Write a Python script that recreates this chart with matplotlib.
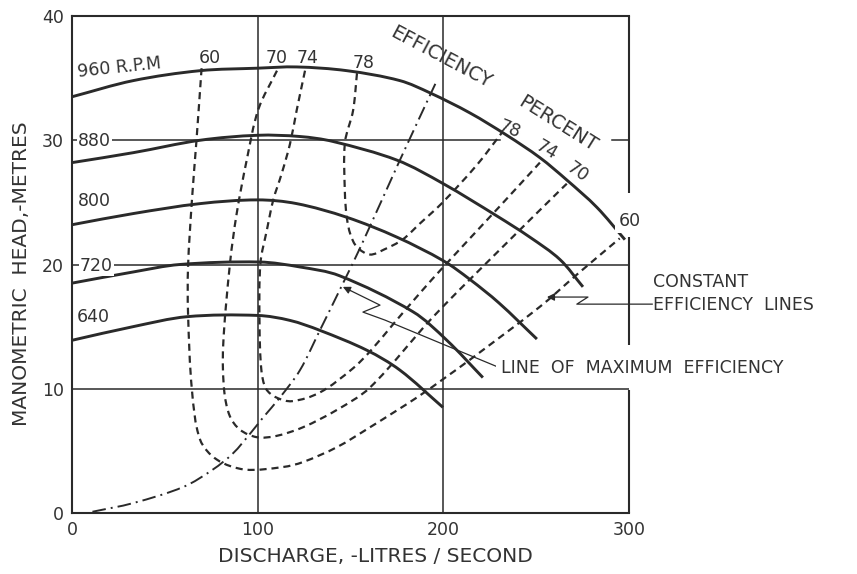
import numpy as np
import matplotlib
matplotlib.use("Agg")
import matplotlib.pyplot as plt
from matplotlib.path import Path
from matplotlib.patches import PathPatch

INK = "#2a2a2a"
TXT = "#333333"

# ---- head / discharge characteristics (discharge L/s, manometric head m) ----
speed_labels = ["960 R.P.M", "880", "800", "720", "640"]
q960 = [0, 33, 69, 100, 121, 148, 176.6, 193, 214.3, 234.2, 252, 266.5, 282.7, 297.8]
h960 = [33.5, 34.8, 35.6, 35.8, 35.9, 35.6, 34.8, 33.8, 32.2, 30.4, 28.6, 26.8, 24.6, 22.0]
q880 = [0, 33, 69, 100, 122.8, 140.6, 175, 200, 228.9, 246.6, 262.8, 275.2]
h880 = [28.2, 29.0, 30.0, 30.4, 30.3, 29.9, 28.4, 26.5, 23.9, 22.2, 20.4, 18.2]
q800 = [0, 33, 69, 100, 121, 148, 175, 200, 214.3, 230, 250.4]
h800 = [23.2, 24.1, 24.9, 25.2, 24.9, 23.8, 22.2, 20.3, 18.8, 16.9, 14.0]
q720 = [0, 33, 58, 101, 122.8, 144, 183.6, 201.9, 221.3]
h720 = [18.5, 19.4, 20.0, 20.2, 19.8, 19.1, 16.2, 13.9, 10.9]
q640 = [0, 33, 62, 100, 117.4, 133.5, 158.8, 176.6, 199.8]
h640 = [13.9, 15.0, 15.8, 15.9, 15.5, 14.7, 13.1, 11.5, 8.5]

# ---- constant efficiency contours (percent) ----
eff_labels = ["60", "70", "74", "78"]
e60_q = [69.8, 67, 64.6, 62.5, 62.5, 64.6, 69, 78, 93, 113.6, 124.4, 142.7, 160.5, 185.8, 202, 214, 252, 272, 295]
e60_h = [35.8, 29.9, 25.2, 19.8, 16.1, 9.9, 5.9, 4.3, 3.5, 3.7, 4.1, 5.3, 6.9, 9.3, 11.0, 12.3, 16.6, 19.2, 22.1]
e70_q = [110.4, 100.4, 94.1, 88.7, 85.1, 81.4, 82, 85, 90.5, 99.6, 110, 124.4, 142.7, 160.5, 194.6, 230.5, 264.4, 266.5]
e70_h = [35.6, 32.5, 28.4, 24.1, 20.1, 13.4, 9.8, 7.8, 6.7, 6.1, 6.2, 6.9, 8.3, 10.1, 15.8, 21.2, 26.2, 26.5]
e74_q = [125.5, 121, 117.4, 112.9, 108.4, 105, 101.5, 101, 102, 104.5, 110, 118.5, 133.5, 151, 160.5, 173, 187.4, 200, 230.5, 252]
e74_h = [35.6, 32.4, 29.7, 27.3, 25.2, 22.8, 20.1, 15.3, 11.5, 10.0, 9.3, 9.0, 9.7, 11.6, 13.0, 15.2, 17.7, 19.8, 24.7, 28.2]
e78_q = [153.5, 151.4, 147, 147, 148, 150, 153.5, 160.5, 168, 178, 187.4, 199, 218, 231.5]
e78_h = [35.4, 32.4, 29.8, 25.7, 23.8, 22.4, 21.4, 20.8, 21.2, 22.0, 23.3, 24.9, 28.0, 30.6]

# ---- line of maximum efficiency ----
mx_q = [11, 33, 60, 75.9, 86.7, 96, 103, 112, 122.8, 133.5, 146, 156, 176.6, 196.5]
mx_h = [0.1, 0.8, 2.1, 3.5, 4.8, 6.4, 7.7, 9.3, 11.5, 14.7, 18.5, 21.6, 28.4, 34.8]

# screen units per data unit, used only to measure chord lengths
QSCALE, HSCALE = 557 / 300, 497 / 40


def smooth_path(q, h):
    """Cubic Bezier path through every (q, h) point, chord-length tangents."""
    p = np.column_stack([q, h]).astype(float)
    s = p * [QSCALE, HSCALE]
    t = np.concatenate([[0.0], np.cumsum(np.hypot(*np.diff(s, axis=0).T))])
    n = len(p)
    m = np.zeros_like(p)
    for i in range(n):
        a, b = max(i - 1, 0), min(i + 1, n - 1)
        m[i] = (p[b] - p[a]) / (t[b] - t[a])
    verts = [p[0]]
    codes = [Path.MOVETO]
    for i in range(n - 1):
        dt = t[i + 1] - t[i]
        verts += [p[i] + m[i] * dt / 3, p[i + 1] - m[i + 1] * dt / 3, p[i + 1]]
        codes += [Path.CURVE4] * 3
    return Path(np.array(verts), codes)


def curve(ax, q, h, **kw):
    ax.add_patch(PathPatch(smooth_path(q, h), fill=False, **kw))


W, H = 857, 574
fig = plt.figure(figsize=(W / 100, H / 100), dpi=100)
ax = fig.add_axes([72 / W, 1 - 513 / H, (629 - 72) / W, (513 - 16) / H])
ax.set_xlim(0, 300)
ax.set_ylim(0, 40)

# frame: right edge is interrupted where lettering crosses it
for side in ("top", "bottom", "left"):
    ax.spines[side].set_linewidth(1.5)
    ax.spines[side].set_color(INK)
ax.spines["right"].set_visible(False)
for y0, y1 in [(1.0, 0.644), (0.555, 0.338), (0.247, 0.0)]:
    ax.plot([1, 1], [y0, y1], transform=ax.transAxes, color=INK, lw=1.5,
            clip_on=False, solid_capstyle="butt", zorder=2.5)

# grid
glw = 1.1
for xv in (100, 200):
    ax.axvline(xv, color=INK, lw=glw, zorder=1)
for yv in (10, 20):
    ax.axhline(yv, color=INK, lw=glw, zorder=1)
ax.axhline(30, xmax=230.5 / 300, color=INK, lw=glw, zorder=1)
ax.axhline(30, xmin=290.8 / 300, color=INK, lw=glw, zorder=1)

ax.set_xticks([0, 100, 200, 300])
ax.set_yticks([0, 10, 20, 30, 40])
ax.tick_params(length=0, labelsize=12.5, labelcolor=TXT, pad=6)

# head curves
for q, h in [(q960, h960), (q880, h880), (q800, h800), (q720, h720), (q640, h640)]:
    curve(ax, q, h, edgecolor=INK, lw=2.1, capstyle="butt", zorder=3)

# efficiency contours
for q, h in [(e60_q, e60_h), (e70_q, e70_h), (e74_q, e74_h), (e78_q, e78_h)]:
    curve(ax, q, h, edgecolor=INK, lw=1.6, linestyle=(0, (3.2, 2.2)), zorder=2.6)

# line of maximum efficiency
curve(ax, mx_q, mx_h, edgecolor=INK, lw=1.4, linestyle=(0, (7, 2.6, 1, 2.6)), zorder=2.6)

# speed labels
white = dict(facecolor="white", edgecolor="none", pad=1.0)
ax.text(3.2, 35.5, speed_labels[0], fontsize=12.5, color=TXT, rotation=6,
        rotation_mode="anchor", ha="left", va="center", zorder=4)
ax.text(3.2, 29.9, speed_labels[1], fontsize=12.5, color=TXT, ha="left", va="center",
        bbox=white, zorder=4)
ax.text(3.2, 25.1, speed_labels[2], fontsize=12.5, color=TXT, ha="left", va="center", zorder=4)
ax.text(4.3, 19.9, speed_labels[3], fontsize=12.5, color=TXT, ha="left", va="center",
        bbox=white, zorder=4)
ax.text(2.7, 15.8, speed_labels[4], fontsize=12.5, color=TXT, ha="left", va="center", zorder=4)

# efficiency values at the tops of the contours
for lab, x, y in zip(eff_labels, [74.3, 110, 127, 157], [36.6, 36.6, 36.6, 36.2]):
    ax.text(x, y, lab, fontsize=12.5, color=TXT, ha="center", va="center", zorder=4)
# and where the right-hand branches meet the 960 rpm curve
for lab, x, y, r in zip(eff_labels, [300.5, 272, 255.8, 236], [23.5, 27.4, 29.2, 30.9],
                        [0, -35, -30, -22]):
    kw = dict(bbox=dict(facecolor="white", edgecolor="none", pad=2.5)) if lab == "60" else {}
    ax.text(x, y, lab, fontsize=12.5, color=TXT, ha="center", va="center", rotation=r,
            clip_on=False, zorder=4, **kw)

ax.text(198.5, 36.7, "EFFICIENCY", fontsize=14, color=TXT, rotation=-28,
        ha="center", va="center", zorder=4)
ax.text(261.7, 31.3, "PERCENT", fontsize=14, color=TXT, rotation=-32,
        ha="center", va="center", zorder=4)

# callouts
ax.text(312.9, 18.6, "CONSTANT", fontsize=12.5, color=TXT, ha="left", va="center", clip_on=False)
ax.text(312.9, 16.75, "EFFICIENCY  LINES", fontsize=12.5, color=TXT, ha="left", va="center",
        clip_on=False)
ax.text(231.0, 11.7, "LINE  OF  MAXIMUM  EFFICIENCY", fontsize=12.5, color=TXT, ha="left",
        va="center", clip_on=False, zorder=4,
        bbox=dict(facecolor="white", edgecolor="none", pad=3.5))

lead1_q = [229.4, 168.5, 156.7, 165.9, 150.0]
lead1_h = [11.75, 15.53, 16.17, 16.73, 17.9]
ax.plot(lead1_q, lead1_h, color=INK, lw=0.9, zorder=3)
ax.annotate("", xy=(145.9, 18.2), xytext=(150.0, 17.9),
            arrowprops=dict(arrowstyle="-|>", color=INK, lw=0.9, mutation_scale=11,
                            shrinkA=0, shrinkB=0))

lead2_q = [312.5, 271.9, 277.9, 260.0]
lead2_h = [16.81, 16.81, 17.38, 17.38]
ax.plot(lead2_q, lead2_h, color=INK, lw=0.9, zorder=3, clip_on=False)
ax.annotate("", xy=(255.8, 17.38), xytext=(260.0, 17.38),
            arrowprops=dict(arrowstyle="-|>", color=INK, lw=0.9, mutation_scale=11,
                            shrinkA=0, shrinkB=0))

# axis titles
fig.text(22 / W, 1 - 274 / H, "MANOMETRIC  HEAD,-METRES", rotation=90, fontsize=14.5,
         color=TXT, ha="center", va="center")
fig.text(375 / W, 1 - 557 / H, "DISCHARGE, -LITRES / SECOND", fontsize=14.5,
         color=TXT, ha="center", va="center")

fig.savefig("out.png", dpi=100, facecolor="white")
